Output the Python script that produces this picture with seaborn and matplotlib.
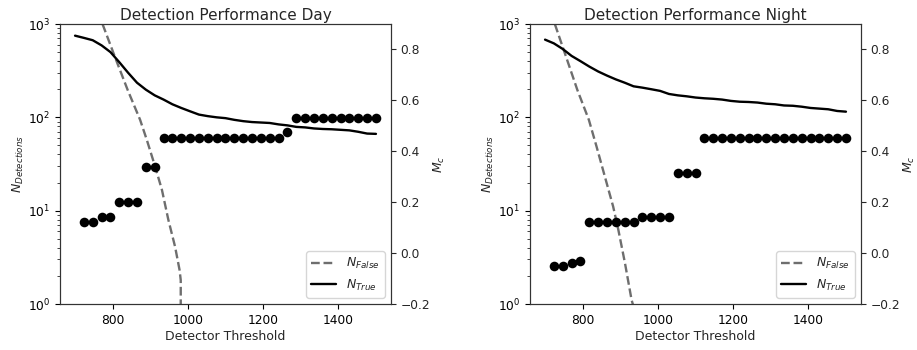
import numpy as np
import pandas as pd
import matplotlib
matplotlib.use("Agg")
import matplotlib.pyplot as plt
import seaborn as sns

sns.set_style("ticks")
plt.rcParams['font.family'] = ['DejaVu Sans']
plt.rcParams['mathtext.fontset'] = 'dejavusans'

# Threshold grid for N_True and Mc
thresholds = [700, 723.5, 747, 770.6, 794.1, 817.6, 841.2, 864.7, 888.2, 911.8,
              935.3, 958.8, 982.4, 1005.9, 1029.4, 1052.9, 1076.5, 1100, 1123.5,
              1147.1, 1170.6, 1194.1, 1217.6, 1241.2, 1264.7, 1288.2, 1311.8,
              1335.3, 1358.8, 1382.4, 1405.9, 1429.4, 1452.9, 1476.5, 1500]

# Day
day_true = [750, 710, 670, 590, 500, 390, 300, 235, 198, 172, 155, 138, 126, 116,
            107, 103, 100, 98, 94, 91, 89, 88, 87, 84, 82, 79, 78, 76, 75, 74.5,
            73.5, 72.5, 70, 67, 66.5]
day_false_x = [773, 806, 840, 873, 891, 913, 931, 948, 966, 978, 981, 982.5]
day_false = [1000, 444, 196, 94, 57, 29.6, 16.7, 8.0, 4.1, 2.3, 1.8, 0]
day_mc = [0.122, 0.122, 0.141, 0.141, 0.2, 0.2, 0.2, 0.34, 0.34,
          0.451, 0.451, 0.451, 0.451, 0.451, 0.451, 0.451, 0.451, 0.451, 0.451,
          0.451, 0.451, 0.451, 0.451, 0.474,
          0.531, 0.531, 0.531, 0.531, 0.531, 0.531, 0.531, 0.531, 0.531, 0.531]

# Night
night_true = [680, 620, 540, 455, 400, 350, 310, 280, 255, 235, 215, 208, 200, 192,
              178, 172, 168, 163, 160, 158, 155, 150, 147, 146, 144, 140, 138, 134,
              133, 130, 126, 124, 122, 117, 115]
night_false_x = [726, 756, 786, 816.5, 837, 859, 881, 895, 912.5, 930, 940]
night_false = [1000, 444, 196, 94, 48.5, 23.2, 11.1, 6.2, 2.74, 1.11, 0.8]
night_mc = [-0.051, -0.051, -0.038, -0.031,
            0.124, 0.124, 0.124, 0.124, 0.124, 0.124,
            0.143, 0.143, 0.143, 0.143,
            0.316, 0.316, 0.316,
            0.452, 0.452, 0.452, 0.452, 0.452, 0.452, 0.452, 0.452, 0.452,
            0.452, 0.452, 0.452, 0.452, 0.452, 0.452, 0.452, 0.452]

panels = [
    ("Detection Performance Day", day_false_x, day_false, day_true, day_mc),
    ("Detection Performance Night", night_false_x, night_false, night_true, night_mc),
]

fig = plt.figure(figsize=(9.17, 3.5), dpi=100)
lefts = [60 / 917, 530 / 917]
width = 331 / 917
bottom = 1 - 304 / 350
height = 280 / 350

FS = 8.8
spine_col = '#333333'

for i, (title, fx, fy, ty, mc) in enumerate(panels):
    ax = fig.add_axes([lefts[i], bottom, width, height])
    sns.lineplot(x=fx, y=fy, ax=ax, color='#6e6e6e', linestyle='--', lw=1.7,
                 label='$N_{False}$', sort=False)
    sns.lineplot(x=thresholds, y=ty, ax=ax, color='black', lw=1.7,
                 label='$N_{True}$', sort=False)
    ax.set_yscale('log')
    ax.set_ylim(1, 1000)
    ax.set_xlim(660, 1540)
    ax.set_xticks([800, 1000, 1200, 1400])
    ax.set_xlabel('Detector Threshold', fontsize=9, labelpad=2)
    ax.set_ylabel('$N_{Detections}$', fontsize=9, labelpad=1)
    ax.set_title(title, fontsize=11, pad=3)
    ax.tick_params(labelsize=FS, colors='black')
    ax.legend(loc='lower right', fontsize=9, framealpha=0.8, edgecolor='#cccccc')

    ax2 = ax.twinx()
    sns.scatterplot(x=thresholds[1:], y=mc, ax=ax2, color='black', s=48,
                    linewidth=0, zorder=3)
    ax2.set_ylim(-0.2, 0.9)
    ax2.set_yticks([-0.2, 0.0, 0.2, 0.4, 0.6, 0.8])
    ax2.set_ylabel('$M_c$', fontsize=9, labelpad=1)
    ax2.tick_params(labelsize=FS)
    for a in (ax, ax2):
        for s in a.spines.values():
            s.set_color(spine_col)
        a.spines['top'].set_visible(True)
        a.spines['right'].set_visible(True)

fig.savefig('out.png', dpi=100)
